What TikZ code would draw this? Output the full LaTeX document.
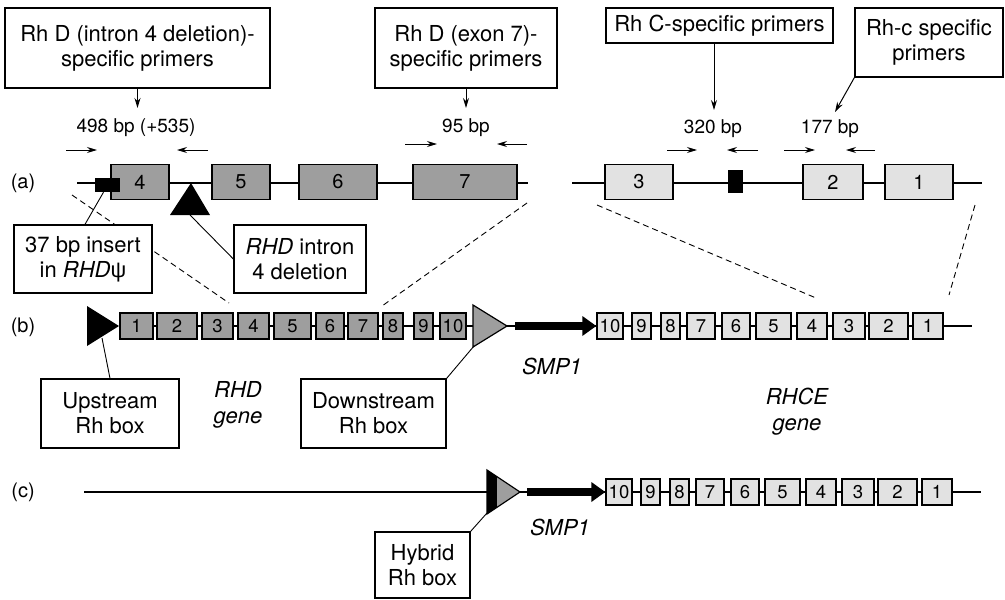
\documentclass[tikz,border=0pt]{standalone}
\usepackage{fontspec}
\setmainfont{TeX Gyre Heros}
\newfontfamily\greekfont{Liberation Sans}
\usetikzlibrary{arrows.meta}
\definecolor{dgray}{RGB}{158,158,158}
\definecolor{lgray}{RGB}{226,226,226}
\newcommand\boxfont{\fontsize{22}{25}\selectfont}
\newcommand\bpfont{\fontsize{19}{22}\selectfont}
\newcommand\rowfont{\fontsize{20}{22}\selectfont}
\newcommand\exAfont{\fontsize{20}{22}\selectfont}
\newcommand\exBfont{\fontsize{18.5}{20}\selectfont}
\newcommand\genefont{\fontsize{22}{26}\selectfont\itshape}
\begin{document}
\begin{tikzpicture}[x=1pt,y=-1pt,
  callout/.style={draw, line width=1.3pt, fill=white, align=center, inner sep=0pt, font=\boxfont},
  exonD/.style={draw, line width=1.3pt, fill=dgray, inner sep=0pt},
  exonC/.style={draw, line width=1.3pt, fill=lgray, inner sep=0pt},
  genome/.style={line width=1.8pt},
  leader/.style={line width=0.9pt},
  mapline/.style={line width=0.9pt, dash pattern=on 6pt off 4pt},
  primer/.style={line width=1pt, -{Stealth[length=10pt,width=6pt]}},
  pointer/.style={line width=1pt, -{Stealth[length=10pt,width=6pt]}},
  smp/.style={line width=8pt, -{Triangle[length=14pt,width=19pt]}},
  plain/.style={inner sep=0pt, align=center},
]
\useasboundingbox (0,0) rectangle (1005,600);

% ---------- dashed lines mapping row (a) onto row (b)
\coordinate (m1a) at (72,195);  \coordinate (m1b) at (229,303);
\coordinate (m2a) at (527,203); \coordinate (m2b) at (382,306);
\coordinate (m3a) at (597,205); \coordinate (m3b) at (816,298);
\coordinate (m4a) at (975,205); \coordinate (m4b) at (949,295);
\draw[mapline] (m1a) -- (m1b);
\draw[mapline] (m2a) -- (m2b);
\draw[mapline] (m3a) -- (m3b);
\draw[mapline] (m4a) -- (m4b);

% ---------- primer boxes
\node[callout, minimum width=265pt, minimum height=80pt] (pA) at (137.5,48)
  {Rh D (intron 4 deletion)-\\specific primers};
\node[callout, minimum width=182pt, minimum height=80pt] (pB) at (466,48)
  {Rh D (exon 7)-\\specific primers};
\node[callout, minimum width=227pt, minimum height=35pt] (pC) at (719.5,25.5)
  {Rh C-specific primers};
\node[callout, minimum width=148pt, minimum height=69pt] (pD) at (929,42.5)
  {Rh-c specific\\primers};

\coordinate (tA) at (137.5,108);
\coordinate (tB) at (466,108);
\coordinate (tC) at (714,110);
\coordinate (tD) at (835,112);
\draw[pointer] (pA.south) -- (tA);
\draw[pointer] (pB.south) -- (tB);
\draw[pointer] ([xshift=-5.5pt]pC.south) -- (tC);
\draw[pointer] (pD.south west) -- (tD);

% ---------- product sizes
\node[plain, font=\bpfont] (s1) at (136,128) {498 bp (+535)};
\node[plain, font=\bpfont] (s2) at (466,128) {95 bp};
\node[plain, font=\bpfont] (s3) at (713,129) {320 bp};
\node[plain, font=\bpfont] (s4) at (830,129) {177 bp};

% ---------- primer pairs
\coordinate (f1a) at (66,150);  \coordinate (f1b) at (97,150);
\coordinate (r1a) at (208,150); \coordinate (r1b) at (177,150);
\coordinate (f2a) at (405,144); \coordinate (f2b) at (437,144);
\coordinate (r2a) at (527,144); \coordinate (r2b) at (497,144);
\coordinate (f3a) at (667,150); \coordinate (f3b) at (697,150);
\coordinate (r3a) at (758,150); \coordinate (r3b) at (727,150);
\coordinate (f4a) at (784,150); \coordinate (f4b) at (815,150);
\coordinate (r4a) at (875,150); \coordinate (r4b) at (846,150);
\foreach \p in {1,2,3,4}{
  \draw[primer] (f\p a) -- (f\p b);
  \draw[primer] (r\p a) -- (r\p b);
}

% ---------- row labels
\node[plain, font=\rowfont] (la) at (23,183) {(a)};
\node[plain, font=\rowfont] (lb) at (23,327) {(b)};
\node[plain, font=\rowfont] (lc) at (23,492) {(c)};

% ---------- row (a): exons 4-7 of RHD and 3-1 of RHCE
\coordinate (aL1) at (77,183);  \coordinate (aR1) at (528,183);
\coordinate (aL2) at (572,183); \coordinate (aR2) at (982,183);
\draw[genome] (aL1) -- (aR1);
\draw[genome] (aL2) -- (aR2);
\foreach \xa/\xb/\lbl in {111/169/4,212/270/5,299/377/6,413/517/7}{
  \pgfmathsetmacro\exw{\xb-\xa}\pgfmathsetmacro\exm{(\xa+\xb)/2}
  \node[exonD, minimum width=\exw pt, minimum height=35pt, font=\exAfont] (aD\lbl) at (\exm,182) {\lbl};
}
\foreach \xa/\xb/\lbl in {605/673/3,803/863/2,885/953/1}{
  \pgfmathsetmacro\exw{\xb-\xa}\pgfmathsetmacro\exm{(\xa+\xb)/2}
  \node[exonC, minimum width=\exw pt, minimum height=35pt, font=\exAfont] (aC\lbl) at (\exm,182) {\lbl};
}
\node[fill=black, inner sep=0pt, minimum width=25pt, minimum height=14pt] (ins37) at (107.5,185) {};
\node[fill=black, inner sep=0pt, minimum width=15pt, minimum height=23pt] (cmark) at (735.5,181.5) {};
\fill (170,215) -- (191,183) -- (210,215) -- cycle;
\coordinate (delT) at (190,215);

% ---------- callouts on row (a)
\node[callout, minimum width=138pt, minimum height=68pt] (insbox) at (83,259)
  {37 bp insert\\in \textit{RHD}{\greekfont ψ}};
\node[callout, minimum width=132pt, minimum height=68pt] (delbox) at (300,259)
  {\textit{RHD} intron\\4 deletion};
\draw[leader] ([xshift=-4pt]ins37.south) -- ([xshift=2pt]insbox.north);
\draw[leader] (delT) -- (delbox.west);

% ---------- row (b): RHD, SMP1, RHCE
\coordinate (bL) at (119,326); \coordinate (bR) at (972,326);
\draw[genome] (bL) -- (bR);
\fill (87,306) -- (119,326) -- (87,346) -- cycle;
\coordinate (upT) at (102,338);
\foreach \xa/\xb/\lbl in {120/153/1,157/197/2,202/233/3,238/269/4,274/311/5,316/344/6,348/378/7,383/403/8,414/433/9,440/466/10}{
  \pgfmathsetmacro\exw{\xb-\xa}\pgfmathsetmacro\exm{(\xa+\xb)/2}
  \node[exonD, minimum width=\exw pt, minimum height=26pt, font=\exBfont] (bD\lbl) at (\exm,326) {\lbl};
}
\filldraw[fill=dgray, line width=1.2pt] (473,305) -- (507,326) -- (473,347) -- cycle;
\coordinate (downT) at (474,346);
\foreach \xa/\xb/\lbl in {597/623/10,632/651/9,661/680/8,687/715/7,722/750/6,756/791/5,797/827/4,833/865/3,869/908/2,913/943/1}{
  \pgfmathsetmacro\exw{\xb-\xa}\pgfmathsetmacro\exm{(\xa+\xb)/2}
  \node[exonC, minimum width=\exw pt, minimum height=26pt, font=\exBfont] (bC\lbl) at (\exm,326) {\lbl};
}
\coordinate (bS) at (515,326);
\draw[smp] (bS) -- (bC10.west);
\node[plain, font=\genefont] (smpb) at (552,366) {SMP1};
\node[plain, font=\genefont] (rhd) at (238,405) {RHD\\gene};
\node[plain, font=\genefont] (rhce) at (797,412) {RHCE\\gene};

\node[callout, minimum width=138pt, minimum height=69pt] (upbox) at (110,413.5) {Upstream\\Rh box};
\node[callout, minimum width=145pt, minimum height=69pt] (downbox) at (373.5,413.5) {Downstream\\Rh box};
\draw[leader] (upT) -- (upbox.north);
\draw[leader] (downT) -- (downbox.north east);

% ---------- row (c): hybrid Rh box, SMP1, RHCE
\coordinate (cL) at (84,492); \coordinate (cR) at (981,492);
\draw[genome] (cL) -- (cR);
\fill (487,470) -- (497,476.7) -- (497,507.3) -- (487,514) -- cycle;
\fill[dgray] (497,476.7) -- (520,492) -- (497,507.3) -- cycle;
\draw[line width=1.2pt, line join=miter] (487,470) -- (520,492) -- (487,514) -- cycle;
\coordinate (hybT) at (487,513);
\foreach \xa/\xb/\lbl in {606/632/10,641/660/9,670/689/8,696/724/7,731/759/6,765/800/5,806/836/4,842/874/3,878/917/2,922/952/1}{
  \pgfmathsetmacro\exw{\xb-\xa}\pgfmathsetmacro\exm{(\xa+\xb)/2}
  \node[exonC, minimum width=\exw pt, minimum height=26pt, font=\exBfont] (cC\lbl) at (\exm,492) {\lbl};
}
\coordinate (cS) at (527,492);
\draw[smp] (cS) -- (cC10.west);
\node[plain, font=\genefont] (smpc) at (560,527) {SMP1};
\node[callout, minimum width=95pt, minimum height=66pt] (hybbox) at (422.5,565) {Hybrid\\Rh box};
\draw[leader] (hybT) -- (hybbox.north east);
\end{tikzpicture}
\end{document}
